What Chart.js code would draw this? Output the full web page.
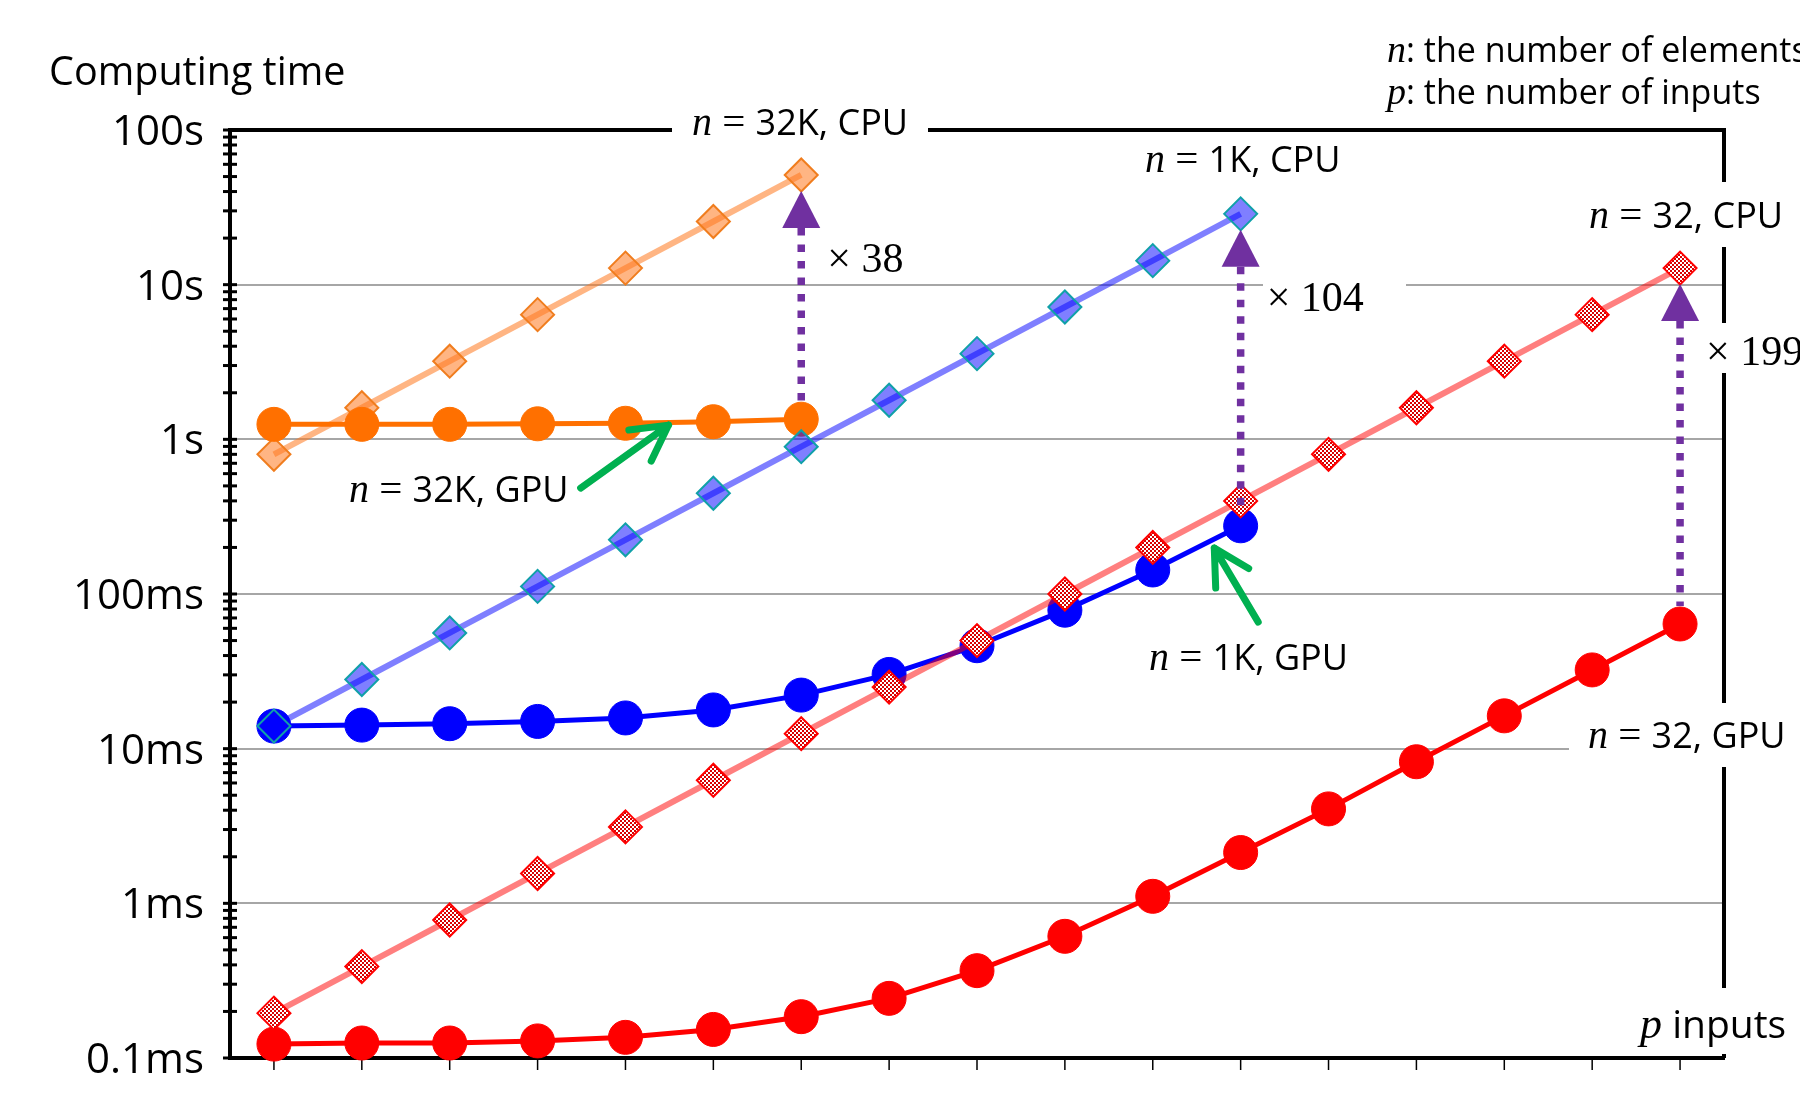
<!DOCTYPE html>
<html>
<head>
<meta charset="utf-8">
<script src="https://cdn.jsdelivr.net/npm/chart.js@4/dist/chart.umd.min.js"></script>
<style>
  html, body { margin: 0; padding: 0; background: #fff; }
</style>
</head>
<body>
<canvas id="graph" width="1800" height="1093"></canvas>
<script>
"use strict";
// p inputs (x axis, ticks only in the figure)
var pInputs = [1, 2, 4, 8, 16, 32, 64, 128, 256, 512, 1024, 2048, 4096, 8192, 16384, 32768, 65536];

// computing time, seconds
var cpu32K = [0.8, 1.6, 3.2, 6.4, 12.8, 25.6, 51.2];
var gpu32K = [1.25, 1.25, 1.25, 1.26, 1.27, 1.3, 1.35];
var cpu1K = [0.014, 0.028, 0.056, 0.112, 0.224, 0.448, 0.896, 1.79, 3.58, 7.17, 14.3, 28.7];
var gpu1K = [0.014, 0.0142, 0.0145, 0.015, 0.0158, 0.0178, 0.0222, 0.0302, 0.0463, 0.0786, 0.143, 0.276];
var cpu32 = [0.000195, 0.00039, 0.00078, 0.00156, 0.00312, 0.00625, 0.0125, 0.025, 0.05, 0.1, 0.2, 0.4, 0.8, 1.6, 3.2, 6.4, 12.8];
var gpu32 = [0.000123, 0.000125, 0.000125, 0.000129, 0.000136, 0.000153, 0.000185, 0.000243, 0.000367, 0.000612, 0.00111, 0.00213, 0.00408, 0.00823, 0.0163, 0.0323, 0.064];

// y axis decades and their labels
var yDecades = [0.0001, 0.001, 0.01, 0.1, 1, 10, 100];
var yLabels = ["0.1ms", "1ms", "10ms", "100ms", "1s", "10s", "100s"];

// speed-up arrows: [cpu series, gpu series, label]
var speedups = [[cpu32K, gpu32K, "38"], [cpu1K, gpu1K, "104"], [cpu32, gpu32, "199"]];

var SANS = "'Open Sans', 'Noto Sans', sans-serif";
var SERIF = "'Liberation Serif', 'DejaVu Serif', serif";

// all y tick values 1..9 x 10^k
var yTicks = [];
for (var k = -4; k < 2; k++) {
  for (var m = 1; m < 10; m++) yTicks.push(Math.round(m * Math.pow(10, k) * 1e6) / 1e6);
}
yTicks.push(100);

function isDecade(v) {
  var l = Math.log10(v);
  return Math.abs(l - Math.round(l)) < 1e-6;
}

function hatch() {
  var c = document.createElement("canvas");
  c.width = 4; c.height = 4;
  var g = c.getContext("2d");
  g.fillStyle = "#fff"; g.fillRect(0, 0, 4, 4);
  g.fillStyle = "#d80000"; g.fillRect(0, 0, 2, 2); g.fillRect(2, 2, 2, 2);
  return g.createPattern(c, "repeat");
}

// text labels: parts [text, kind], left x, baseline y, white gap box
var labels = [
  { parts: [["Computing time", "s"]], x: 49, y: 85, size: 39.5 },
  { parts: [["n", "i"], [": the number of elements", "s"]], x: 1387, y: 62, size: 34 },
  { parts: [["p", "i"], [": the number of inputs", "s"]], x: 1387, y: 104, size: 34 },
  { parts: [["n", "i"], [" = ", "m"], ["32K, CPU", "s"]], x: 692, y: 135, size: 36, gap: [672, 110, 928, 150] },
  { parts: [["n", "i"], [" = ", "m"], ["1K, CPU", "s"]], x: 1145, y: 172, size: 36 },
  { parts: [["n", "i"], [" = ", "m"], ["32, CPU", "s"]], x: 1589, y: 228, size: 36, gap: [1580, 182, 1790, 247] },
  { parts: [["n", "i"], [" = ", "m"], ["32K, GPU", "s"]], x: 349, y: 502, size: 36 },
  { parts: [["n", "i"], [" = ", "m"], ["1K, GPU", "s"]], x: 1149, y: 670, size: 36 },
  { parts: [["n", "i"], [" = ", "m"], ["32, GPU", "s"]], x: 1588, y: 748, size: 36, gap: [1569, 703, 1790, 767] },
  { parts: [["p", "i"], [" inputs", "s"]], x: 1640, y: 1038, size: 39, gap: [1630, 988, 1790, 1054] }
];
var speedGaps = [null, [1263, 270, 1406, 300], [1690, 323, 1790, 373]];

function fontFor(kind, size) {
  if (kind === "i") return "italic " + Math.round(size * 1.12) + "px " + SERIF;
  if (kind === "m") return Math.round(size * 1.15) + "px " + SERIF;
  return size + "px " + SANS;
}

function drawParts(ctx, parts, x, y, size) {
  ctx.textAlign = "left";
  ctx.textBaseline = "alphabetic";
  ctx.fillStyle = "#000";
  parts.forEach(function (p) {
    ctx.font = fontFor(p[1], size);
    ctx.fillText(p[0], x, y);
    x += ctx.measureText(p[0]).width;
  });
}

function arrowHead(ctx, x, tipY, w, h) {
  ctx.beginPath();
  ctx.moveTo(x, tipY);
  ctx.lineTo(x - w / 2, tipY + h);
  ctx.lineTo(x + w / 2, tipY + h);
  ctx.closePath();
  ctx.fill();
}

// green pointer arrows: from [index, value] to [index, value]
var pointers = [
  [[3.49, 0.484], [4.49, 1.236]],
  [[11.2, 0.0658], [10.7, 0.198]]
];

var decor = {
  id: "decor",
  beforeDatasetsDraw: function (chart) {
    var ctx = chart.ctx, a = chart.chartArea;
    var xs = chart.scales.x, ys = chart.scales.y;
    ctx.save();
    ctx.strokeStyle = "#000";
    ctx.lineWidth = 4;
    ctx.beginPath();
    ctx.moveTo(a.left, a.top); ctx.lineTo(a.right, a.top);
    ctx.moveTo(a.right, a.top - 2); ctx.lineTo(a.right, a.bottom);
    ctx.stroke();
    // y tick marks
    ctx.lineWidth = 3;
    yTicks.forEach(function (v) {
      var py = ys.getPixelForValue(v);
      ctx.beginPath(); ctx.moveTo(a.left - 7, py); ctx.lineTo(a.left + 7, py); ctx.stroke();
    });
    // x tick marks
    ctx.lineWidth = 1.5;
    pInputs.forEach(function (p, i) {
      var px = xs.getPixelForValue(i);
      ctx.beginPath(); ctx.moveTo(px, a.bottom); ctx.lineTo(px, a.bottom + 12); ctx.stroke();
    });
    // white gaps behind labels
    ctx.fillStyle = "#fff";
    labels.concat(speedGaps.map(function (g) { return { gap: g }; })).forEach(function (l) {
      if (l.gap) ctx.fillRect(l.gap[0], l.gap[1], l.gap[2] - l.gap[0], l.gap[3] - l.gap[1]);
    });
    ctx.restore();
  },
  afterDatasetsDraw: function (chart) {
    var ctx = chart.ctx;
    var xs = chart.scales.x, ys = chart.scales.y;
    ctx.save();
    // purple speed-up arrows
    speedups.forEach(function (s, i) {
      var idx = s[0].length - 1;
      var px = xs.getPixelForValue(idx);
      var tip = ys.getPixelForValue(s[0][idx]) + 16;
      var base = ys.getPixelForValue(s[1][idx]) - 18;
      ctx.fillStyle = "#7030a0";
      ctx.strokeStyle = "#7030a0";
      arrowHead(ctx, px, tip, 38, 37);
      ctx.lineWidth = 7.5;
      ctx.setLineDash([7.5, 9]);
      ctx.beginPath();
      ctx.moveTo(px, tip + 37);
      ctx.lineTo(px, base);
      ctx.stroke();
      ctx.setLineDash([]);
    });
    // green pointers
    ctx.strokeStyle = "#00b050";
    ctx.lineWidth = 7;
    ctx.lineCap = "round";
    pointers.forEach(function (p) {
      var x0 = xs.getPixelForValue(p[0][0]), y0 = ys.getPixelForValue(p[0][1]);
      var x1 = xs.getPixelForValue(p[1][0]), y1 = ys.getPixelForValue(p[1][1]);
      var ang = Math.atan2(y0 - y1, x0 - x1);
      ctx.beginPath();
      ctx.moveTo(x0, y0); ctx.lineTo(x1, y1);
      [-0.5, 0.5].forEach(function (d) {
        ctx.moveTo(x1, y1);
        ctx.lineTo(x1 + 40 * Math.cos(ang + d), y1 + 40 * Math.sin(ang + d));
      });
      ctx.stroke();
    });
    ctx.restore();
  },
  afterDraw: function (chart) {
    var ctx = chart.ctx;
    var xs = chart.scales.x, ys = chart.scales.y;
    ctx.save();
    labels.forEach(function (l) { drawParts(ctx, l.parts, l.x, l.y, l.size); });
    speedups.forEach(function (s, i) {
      var idx = s[0].length - 1;
      var px = xs.getPixelForValue(idx);
      var mid = ys.getPixelForValue(s[0][idx]) + 97;
      drawParts(ctx, [["\u00d7 " + s[2], "m"]], px + 26, mid, 36.5);
    });
    ctx.restore();
  }
};

var pat = hatch();

function cpuSet(data, line, fill, edge) {
  return {
    data: data, borderColor: line, borderWidth: 6,
    pointStyle: "rectRot", pointRadius: 16.5, pointBackgroundColor: fill,
    pointBorderColor: edge, pointBorderWidth: 2, clip: false
  };
}
function gpuSet(data, color) {
  return {
    data: data, borderColor: color, borderWidth: 5,
    pointStyle: "circle", pointRadius: 17, pointBackgroundColor: color,
    pointBorderColor: color, pointBorderWidth: 1, clip: false
  };
}

new Chart(document.getElementById("graph"), {
  type: "line",
  data: {
    labels: pInputs,
    datasets: [
      cpuSet(cpu1K, "rgba(0,0,255,0.5)", "rgba(0,0,255,0.5)", "#10a0a8"),
      gpuSet(gpu32K, "#ff7000"),
      cpuSet(cpu32K, "rgba(255,120,30,0.55)", "rgba(255,120,30,0.55)", "#f07d1e"),
      cpuSet(cpu32, "rgba(255,0,0,0.5)", pat, "#ff0000"),
      gpuSet(gpu1K, "#0000ff"),
      gpuSet(gpu32, "#ff0000")
    ]
  },
  options: {
    responsive: false,
    animation: false,
    layout: { padding: { top: 130, right: 76, left: 0, bottom: 0 } },
    plugins: { legend: { display: false }, tooltip: { enabled: false } },
    scales: {
      x: {
        offset: true,
        grid: { display: false },
        border: { display: true, color: "#000", width: 4 },
        ticks: { display: false },
        afterFit: function (s) { s.height = 35; s.paddingLeft = 0; s.paddingRight = 0; }
      },
      y: {
        type: "logarithmic",
        min: 0.0001,
        max: 100,
        afterBuildTicks: function (s) {
          s.ticks = yTicks.map(function (v) { return { value: v, major: isDecade(v) }; });
        },
        afterFit: function (s) { s.width = 230; s.paddingTop = 0; s.paddingBottom = 0; },
        ticks: {
          autoSkip: false,
          color: "#000",
          padding: 26,
          labelOffset: 3,
          font: { family: SANS, size: 42 },
          callback: function (v) {
            for (var i = 0; i < yDecades.length; i++) {
              if (Math.abs(Math.log10(v) - Math.log10(yDecades[i])) < 1e-6) return yLabels[i];
            }
            return "";
          }
        },
        grid: {
          drawTicks: false,
          lineWidth: 2,
          color: function (c) {
            var v = c.tick.value;
            if (!isDecade(v) || v <= 0.0001 || v >= 100) return "rgba(0,0,0,0)";
            return "#a6a6a6";
          }
        },
        border: { color: "#000", width: 4 }
      }
    }
  },
  plugins: [decor]
});
</script>
</body>
</html>
